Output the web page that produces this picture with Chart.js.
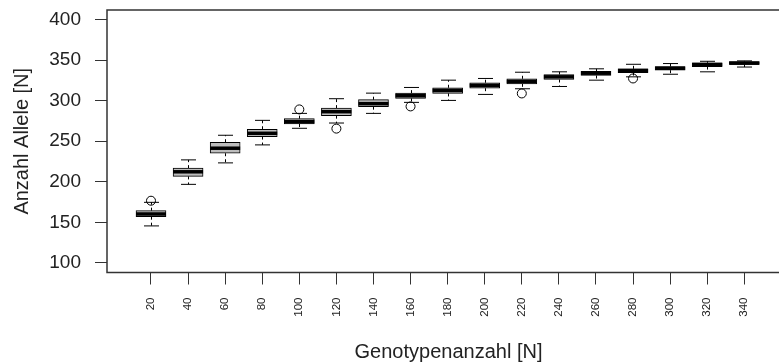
<!DOCTYPE html>
<html>
<head>
<meta charset="utf-8">
<script src="https://cdn.jsdelivr.net/npm/chart.js@4"></script>
<style>
  html, body { margin: 0; padding: 0; background: #fff; overflow: hidden; }
  #wrap { width: 800px; height: 364px; }
</style>
</head>
<body>
<div id="wrap"><canvas id="boxChart"></canvas></div>
<script>
// Genotype counts (x categories) and box statistics
const genotypes = ['20', '40', '60', '80', '100', '120', '140', '160', '180',
                   '200', '220', '240', '260', '280', '300', '320', '340'];
const lowerWhisker = [145.5, 196.8, 223.3, 245.5, 266.0, 272.5, 284.4, 298.0, 300.4,
                      307.8, 314.8, 317.6, 325.4, 329.5, 332.7, 335.7, 341.6];
const q1 = [156.9, 206.6, 235.2, 255.8, 271.3, 281.6, 292.7, 302.9, 309.0,
            315.5, 320.9, 326.2, 331.1, 334.8, 337.7, 342.2, 344.7];
const medians = [160.2, 212.3, 241.4, 259.8, 274.2, 286.5, 296.4, 306.2, 312.7,
                 318.9, 323.8, 329.5, 334.0, 337.3, 340.1, 344.7, 346.4];
const q3 = [164.3, 216.8, 248.8, 264.8, 277.9, 290.9, 301.3, 309.4, 316.0,
            322.2, 327.1, 332.4, 336.4, 339.4, 342.2, 346.8, 348.4];
const upperWhisker = [174.6, 227.0, 257.4, 275.8, 284.4, 302.5, 309.4, 316.4, 325.4,
                      327.5, 335.2, 335.7, 339.4, 345.0, 345.9, 348.7, 349.2];
// outliers: category index + value
const outlierIndex = [0, 4, 5, 7, 10, 13];
const outlierValues = [176.6, 289.3, 265.6, 293.0, 309.0, 327.5];
const yTicks = [100, 150, 200, 250, 300, 350, 400];

const FONT = '"Liberation Sans", Arial, sans-serif';
const BOX_W = 30;

// whiskers (dashed) + caps, medians, and the plot frame
const boxPlugin = {
    id: 'boxPlugin',
    beforeDatasetsDraw(chart) {
        const ctx = chart.ctx, xs = chart.scales.x, ys = chart.scales.y;
        ctx.save();
        ctx.strokeStyle = '#000';
        ctx.lineWidth = 1;
        genotypes.forEach((g, i) => {
            const x = Math.round(xs.getPixelForValue(i)) + 0.5;
            const yLo = ys.getPixelForValue(lowerWhisker[i]);
            const yQ1 = ys.getPixelForValue(q1[i]);
            const yQ3 = ys.getPixelForValue(q3[i]);
            const yHi = ys.getPixelForValue(upperWhisker[i]);
            ctx.setLineDash([3, 3]);
            ctx.beginPath();
            ctx.moveTo(x, yQ1); ctx.lineTo(x, yLo);
            ctx.moveTo(x, yQ3); ctx.lineTo(x, yHi);
            ctx.stroke();
            ctx.setLineDash([]);
            ctx.beginPath();
            ctx.moveTo(x - BOX_W / 4, yLo); ctx.lineTo(x + BOX_W / 4, yLo);
            ctx.moveTo(x - BOX_W / 4, yHi); ctx.lineTo(x + BOX_W / 4, yHi);
            ctx.stroke();
        });
        ctx.restore();
    },
    afterDatasetDraw(chart, args) {
        if (args.index !== 0) return;
        const ctx = chart.ctx, xs = chart.scales.x, ys = chart.scales.y;
        ctx.save();
        ctx.strokeStyle = '#000';
        ctx.lineWidth = 3.5;
        medians.forEach((m, i) => {
            const x = xs.getPixelForValue(i);
            const y = ys.getPixelForValue(m);
            ctx.beginPath();
            ctx.moveTo(x - BOX_W / 2, y); ctx.lineTo(x + BOX_W / 2, y);
            ctx.stroke();
        });
        ctx.restore();
    },
    afterDraw(chart) {
        const a = chart.chartArea, ctx = chart.ctx;
        ctx.save();
        ctx.strokeStyle = '#333';
        ctx.lineWidth = 1.5;
        ctx.strokeRect(a.left, a.top, a.right - a.left, a.bottom - a.top);
        ctx.restore();
    }
};

new Chart(document.getElementById('boxChart').getContext('2d'), {
    type: 'bar',
    data: {
        datasets: [{
            label: 'Box',
            data: genotypes.map((g, i) => ({ x: i, y: [q1[i], q3[i]] })),
            backgroundColor: '#bdbdbd',
            borderColor: '#000',
            borderWidth: 1,
            borderSkipped: false,
            barThickness: BOX_W
        }, {
            type: 'scatter',
            label: 'Ausreißer',
            data: outlierIndex.map((idx, k) => ({ x: idx, y: outlierValues[k] })),
            pointStyle: 'circle',
            pointRadius: 4.5,
            pointBorderWidth: 1,
            pointBorderColor: '#000',
            pointBackgroundColor: 'rgba(0,0,0,0)'
        }]
    },
    plugins: [boxPlugin],
    options: {
        responsive: true,
        maintainAspectRatio: false,
        animation: false,
        layout: { padding: { top: 10, right: 10, left: 0, bottom: 0 } },
        plugins: {
            legend: { display: false },
            tooltip: { enabled: false }
        },
        scales: {
            x: {
                type: 'linear',
                offset: false,
                min: -1.1866,
                max: 17.233,
                afterBuildTicks: scale => {
                    scale.ticks = genotypes.map((g, i) => ({ value: i }));
                },
                afterFit: scale => {
                    scale.height = 91.5;
                    scale.paddingLeft = 0;
                    scale.paddingRight = 0;
                },
                grid: { offset: false, drawOnChartArea: false, drawTicks: true, tickLength: 12, color: '#333' },
                border: { display: false },
                ticks: {
                    autoSkip: false,
                    minRotation: 90,
                    maxRotation: 90,
                    padding: 13,
                    color: '#222',
                    font: { family: FONT, size: 11.5 },
                    callback: v => genotypes[v]
                },
                title: {
                    display: true,
                    text: 'Genotypenanzahl [N]',
                    color: '#222',
                    font: { family: FONT, size: 20 },
                    padding: { top: 0, bottom: 0 }
                }
            },
            y: {
                min: 88,
                max: 412,
                afterBuildTicks: scale => {
                    scale.ticks = yTicks.map(v => ({ value: v }));
                },
                afterFit: scale => {
                    scale.width = 107;
                    scale.paddingTop = 0;
                    scale.paddingBottom = 0;
                },
                grid: { drawOnChartArea: false, drawTicks: true, tickLength: 12, color: '#333' },
                border: { display: false },
                ticks: {
                    padding: 14,
                    color: '#222',
                    font: { family: FONT, size: 19 }
                },
                title: {
                    display: true,
                    text: 'Anzahl Allele [N]',
                    color: '#222',
                    font: { family: FONT, size: 20 },
                    padding: { top: 10, bottom: 0 }
                }
            }
        }
    }
});
</script>
</body>
</html>
